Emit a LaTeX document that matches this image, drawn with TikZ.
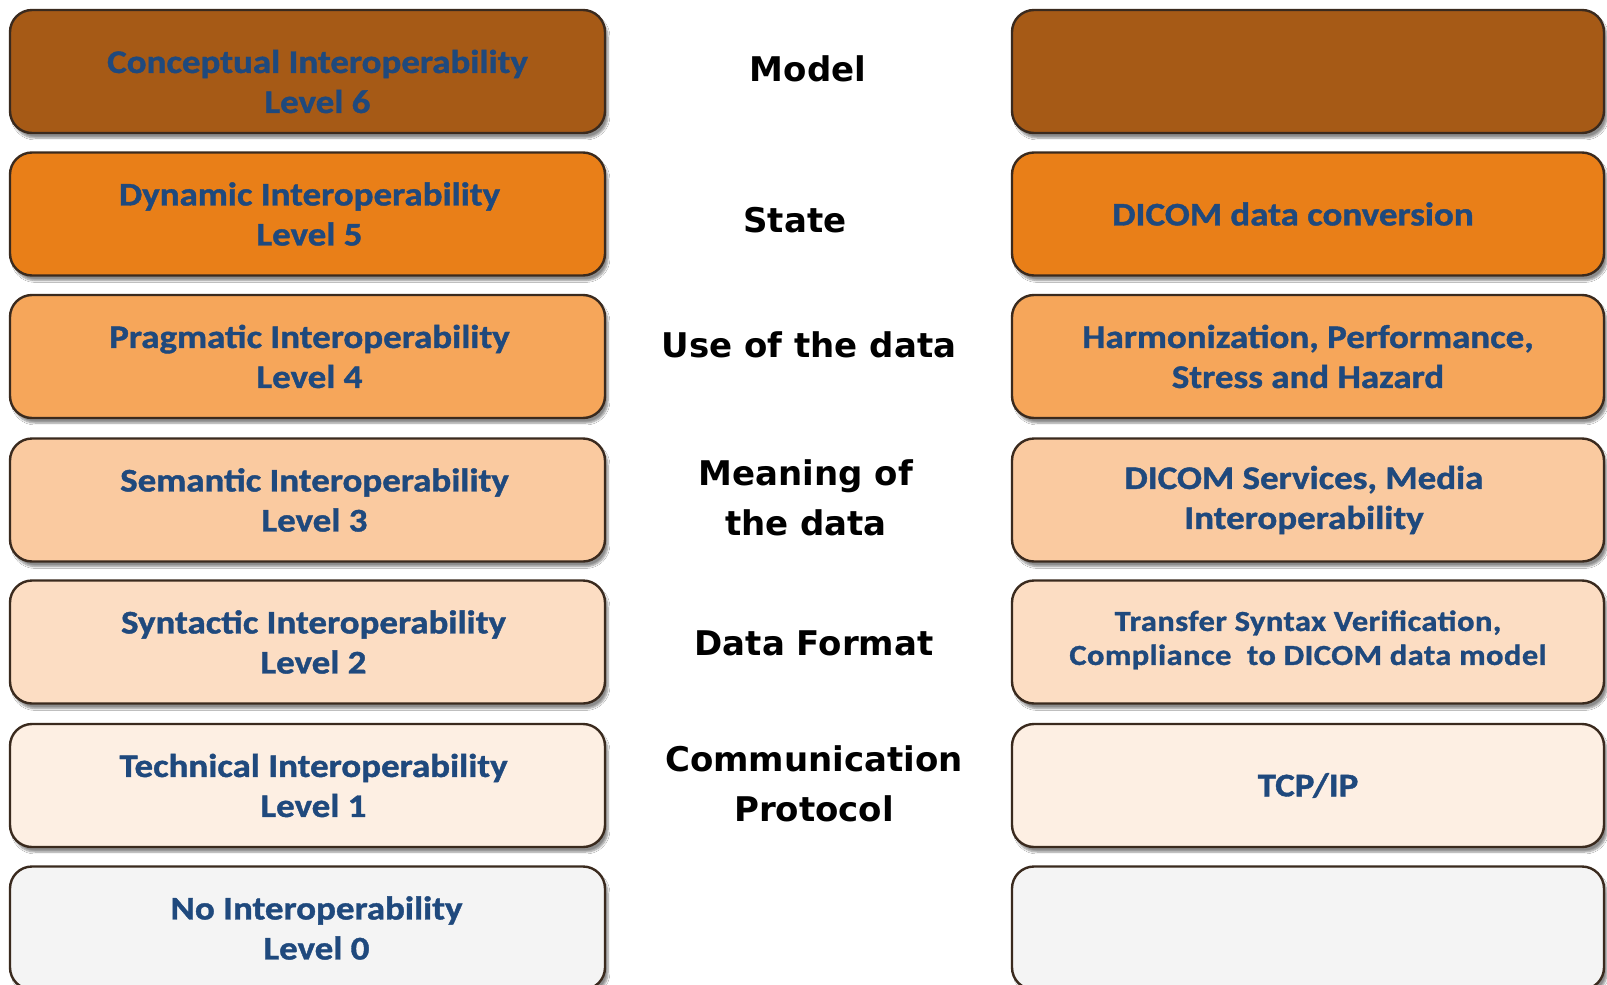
\documentclass[tikz,border=0pt]{standalone}
\usepackage{fontspec}
\setmainfont{Carlito}
\newfontfamily\boxfont{Carlito}[FakeStretch=1.12, BoldFeatures={FakeBold=1.2}]
\newfontfamily\smallboxfont{Carlito}[FakeStretch=1.12, LetterSpace=1.6, BoldFeatures={FakeBold=1.2}]
\newfontfamily\midfont{DejaVu Sans Bold}
\usetikzlibrary{shadows.blur}
\definecolor{txtblue}{HTML}{1F497D}
\definecolor{edgec}{HTML}{3A2A1E}
\definecolor{cSix}{HTML}{A65A16}
\definecolor{cFive}{HTML}{E97F18}
\definecolor{cFour}{HTML}{F6A65A}
\definecolor{cThree}{HTML}{FACAA0}
\definecolor{cTwo}{HTML}{FCDDC3}
\definecolor{cOne}{HTML}{FDEFE3}
\definecolor{cZero}{HTML}{F4F4F4}
\tikzset{
  layerbox/.style={draw=edgec, line width=2.4pt, rounded corners=22pt,
    minimum height=123pt, inner sep=0pt,
    blur shadow={shadow xshift=3pt, shadow yshift=-5pt, shadow blur steps=6, shadow opacity=45}},
  leftbox/.style={layerbox, minimum width=595pt},
  rightbox/.style={layerbox, minimum width=592pt},
  boxtext/.style={align=center, inner sep=0pt, text=txtblue, font=\boxfont\bfseries\fontsize{33}{40}\selectfont},
  smalltext/.style={align=center, inner sep=0pt, text=txtblue, font=\smallboxfont\bfseries\fontsize{29}{34}\selectfont},
  midlabel/.style={align=center, inner sep=0pt,
    font=\midfont\fontsize{34}{50}\selectfont, text=black}
}
\begin{document}
\begin{tikzpicture}[x=1pt,y=-1pt]
\useasboundingbox[fill=white] (0,0) rectangle (1607,985);
% left column
\node[leftbox, fill=cSix]   (L6) at (307.5,71.5)  {};
\node[leftbox, fill=cFive]  (L5) at (307.5,214)   {};
\node[leftbox, fill=cFour]  (L4) at (307.5,356.5) {};
\node[leftbox, fill=cThree] (L3) at (307.5,500)   {};
\node[leftbox, fill=cTwo]   (L2) at (307.5,642)   {};
\node[leftbox, fill=cOne]   (L1) at (307.5,785.5) {};
\node[leftbox, fill=cZero]  (L0) at (307.5,928)   {};
\node[boxtext] (L6t) at ([xshift=10pt,yshift=-10pt]L6.center) {Conceptual Interoperability\\Level 6};
\node[boxtext] (L5t) at ([xshift=2pt]L5.center) {Dynamic Interoperability\\Level 5};
\node[boxtext] (L4t) at ([xshift=2pt]L4.center) {Pragmatic Interoperability\\Level 4};
\node[boxtext] (L3t) at ([xshift=7pt]L3.center) {Semantic Interoperability\\Level 3};
\node[boxtext] (L2t) at ([xshift=6pt]L2.center) {Syntactic Interoperability\\Level 2};
\node[boxtext] (L1t) at ([xshift=6pt]L1.center) {Technical Interoperability\\Level 1};
\node[boxtext] (L0t) at ([xshift=9pt]L0.center) {No Interoperability\\Level 0};
% right column
\node[rightbox, fill=cSix]   (R6) at (1308,71.5)  {};
\node[rightbox, fill=cFive]  (R5) at (1308,214)   {};
\node[rightbox, fill=cFour]  (R4) at (1308,356.5) {};
\node[rightbox, fill=cThree] (R3) at (1308,500)   {};
\node[rightbox, fill=cTwo]   (R2) at (1308,642)   {};
\node[rightbox, fill=cOne]   (R1) at (1308,785.5) {};
\node[rightbox, fill=cZero]  (R0) at (1308,928)   {};
\node[boxtext] (R5t) at ([xshift=-15pt]R5.center) {DICOM data conversion};
\node[boxtext] (R4t) at (R4.center) {Harmonization, Performance,\\Stress and Hazard};
\node[boxtext] (R3t) at ([xshift=-4pt]R3.center) {DICOM Services, Media\\Interoperability};
\node[smalltext] (R2t) at ([yshift=2pt]R2.center) {Transfer Syntax Verification,\\Compliance\ \ to DICOM data model};
\node[boxtext] (R1t) at (R1.center) {TCP/IP};
% middle labels
\node[midlabel] (M6) at (808,69)  {Model};
\node[midlabel] (M5) at (795,220) {State};
\node[midlabel] (M4) at (809,345) {Use of the data};
\node[midlabel] (M3) at (806,498) {Meaning of\\the data};
\node[midlabel] (M2) at (814,643) {Data Format};
\node[midlabel] (M1) at (814,784) {Communication\\Protocol};
\end{tikzpicture}
\end{document}
